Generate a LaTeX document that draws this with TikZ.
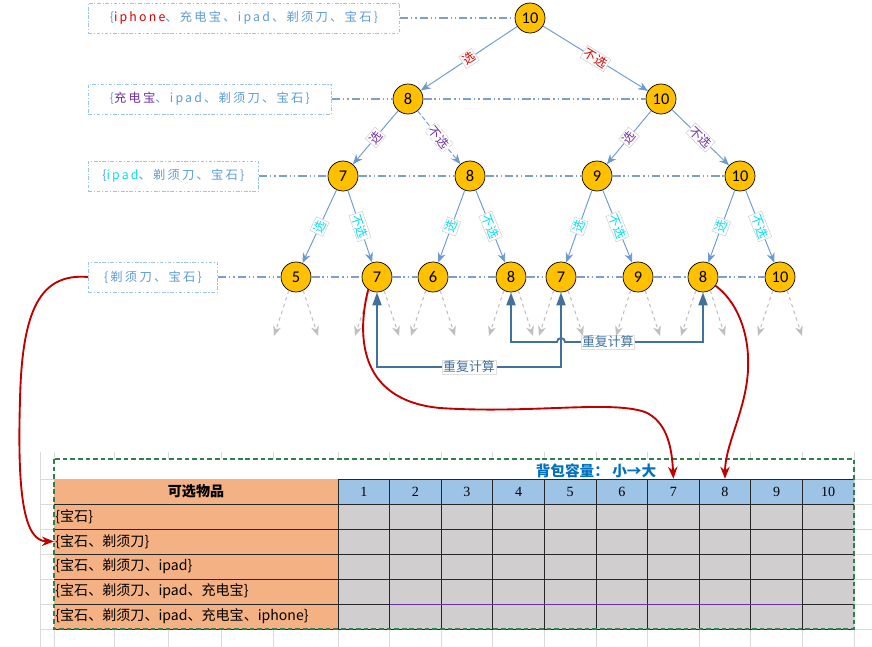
\documentclass[tikz,border=0pt]{standalone}
\usepackage{fontspec}
\setmainfont{Liberation Serif}
\newfontfamily\cjk{Noto Sans CJK SC}
\newfontfamily\boxfont[LetterSpace=18]{Noto Sans CJK SC}
\newfontfamily\numfont{Carlito}
\usetikzlibrary{arrows.meta}

\definecolor{nodeorange}{HTML}{FFC000}
\definecolor{edgeblue}{HTML}{6A9AD0}
\definecolor{lvlblue}{HTML}{7F9FCB}
\definecolor{boxline}{HTML}{9DC3E6}
\definecolor{labblue}{HTML}{5B9BD5}
\definecolor{pickred}{HTML}{D40000}
\definecolor{pickpurple}{HTML}{7030A0}
\definecolor{pickcyan}{HTML}{00E0F0}
\definecolor{repblue}{HTML}{41719C}
\definecolor{curvered}{HTML}{C00000}
\definecolor{sheetgrid}{HTML}{DADADA}
\definecolor{itemorange}{HTML}{F4B183}
\definecolor{headblue}{HTML}{9DC3E6}
\definecolor{cellgray}{HTML}{D0CECE}
\definecolor{framegreen}{HTML}{2F7F4F}
\definecolor{titleblue}{HTML}{0070C0}

\tikzset{
  treenode/.style={circle,draw=black,line width=0.6pt,fill=nodeorange,minimum size=9mm,inner sep=0pt,font=\numfont\fontsize{14}{14}\selectfont},
  boxlab/.style={draw=boxline,line width=0.7pt,dash pattern=on 3pt off 1.5pt on 1pt off 1.5pt,minimum height=9mm,inner sep=0pt,anchor=west,text=labblue,font=\boxfont\fontsize{10.5}{10.5}\selectfont},
  levelline/.style={draw=lvlblue,line width=0.9pt,dash pattern=on 7pt off 2.5pt on 1.2pt off 2.5pt on 1.2pt off 2.5pt},
  pickedge/.style={draw=edgeblue,line width=0.8pt,-{Stealth[length=3mm,width=2.4mm]}},
  pick/.style={sloped,midway,fill=white,draw=black!20,line width=0.4pt,inner sep=1.2pt,font=\cjk\fontsize{10.5}{10.5}\selectfont},
  leafarrow/.style={draw=black!25,dashed,line width=0.9pt,-{Stealth[length=3mm,width=2.4mm]}},
  repeatarrow/.style={draw=repblue,line width=1.6pt,{Triangle[length=3.9mm,width=2.7mm]}-{Triangle[length=3.9mm,width=2.7mm]}},
  repeatlab/.style={fill=white,draw=black!12,line width=0.4pt,inner sep=1pt,text=repblue,font=\cjk\fontsize{11}{11}\selectfont},
  redcurve/.style={draw=curvered,line width=1.6pt,-{Stealth[length=3.6mm,width=2.8mm]}},
  gridline/.style={draw=sheetgrid,line width=0.6pt},
  cellline/.style={draw=black!85,line width=0.7pt},
  headcell/.style={minimum width=15.48mm,minimum height=7.5mm,inner sep=0pt,font=\fontsize{12}{12}\selectfont},
  rowlab/.style={anchor=west,inner sep=1pt,font=\cjk\fontsize{12}{12}\selectfont},
}

\begin{document}
\begin{tikzpicture}[x=0.3mm,y=-0.3mm]
	\useasboundingbox (0,0) rectangle (872,647);

	% item boxes on the left
	\node[boxlab,minimum width=93.3mm] (b1) at (88,18) {\{\textcolor{pickred}{iphone}、充电宝、ipad、剃须刀、宝石\}};
	\node[boxlab,minimum width=72.9mm] (b2) at (88,99) {\{\textcolor{pickpurple}{充电宝}、ipad、剃须刀、宝石\}};
	\node[boxlab,minimum width=51mm] (b3) at (88,176) {\{\textcolor{pickcyan}{ipad}、剃须刀、宝石\}};
	\node[boxlab,minimum width=38.7mm] (b4) at (88,277) {\{剃须刀、宝石\}};

	% decision tree
	\node[treenode] (n0) at (530,18) {10};
	\node[treenode] (n1a) at (408,99) {8};
	\node[treenode] (n1b) at (661,99) {10};
	\node[treenode] (n2a) at (343,176) {7};
	\node[treenode] (n2b) at (470,176) {8};
	\node[treenode] (n2c) at (597,176) {9};
	\node[treenode] (n2d) at (740,176) {10};
	\node[treenode] (l1) at (296,277) {5};
	\node[treenode] (l2) at (377,277) {7};
	\node[treenode] (l3) at (433,277) {6};
	\node[treenode] (l4) at (511,277) {8};
	\node[treenode] (l5) at (561,277) {7};
	\node[treenode] (l6) at (638,277) {9};
	\node[treenode] (l7) at (703,277) {8};
	\node[treenode] (l8) at (780,277) {10};

	\draw[levelline] (b1) -- (n0);
	\draw[levelline] (b2) -- (n1a) -- (n1b);
	\draw[levelline] (b3) -- (n2a) -- (n2b) -- (n2c) -- (n2d);
	\draw[levelline] (b4) -- (l1) -- (l2) -- (l3) -- (l4) -- (l5) -- (l6) -- (l7) -- (l8);

	\draw[pickedge] (n0) -- node[pick,text=pickred]{选} (n1a);
	\draw[pickedge] (n0) -- node[pick,text=pickred]{不选} (n1b);
	\draw[pickedge] (n1a) -- node[pick,text=pickpurple]{选} (n2a);
	\draw[pickedge,dash pattern=on 4pt off 2pt] (n1a) -- node[pick,text=pickpurple]{不选} (n2b);
	\draw[pickedge] (n1b) -- node[pick,text=pickpurple]{选} (n2c);
	\draw[pickedge] (n1b) -- node[pick,text=pickpurple]{不选} (n2d);
	\draw[pickedge] (n2a) -- node[pick,text=pickcyan]{选} (l1);
	\draw[pickedge] (n2a) -- node[pick,text=pickcyan]{不选} (l2);
	\draw[pickedge] (n2b) -- node[pick,text=pickcyan]{选} (l3);
	\draw[pickedge] (n2b) -- node[pick,text=pickcyan]{不选} (l4);
	\draw[pickedge] (n2c) -- node[pick,text=pickcyan]{选} (l5);
	\draw[pickedge] (n2c) -- node[pick,text=pickcyan]{不选} (l6);
	\draw[pickedge] (n2d) -- node[pick,text=pickcyan]{选} (l7);
	\draw[pickedge] (n2d) -- node[pick,text=pickcyan]{不选} (l8);

	% unfinished branches
	\foreach \n in {1,...,8} {
		\path (l\n) ++(-22,59) coordinate (l\n-a) ++(44,0) coordinate (l\n-b);
		\draw[leafarrow] (l\n.-118) -- (l\n-a);
		\draw[leafarrow] (l\n.-62) -- (l\n-b);
	}

	% repeated sub-problems
	\coordinate (r1) at (0,367);
	\coordinate (r2) at (0,342);
	\coordinate (hop) at (557,342);
	\draw[repeatarrow] (l2.south) -- (l2.south |- r1) -- node[repeatlab]{重复计算} (l5.south |- r1) -- (l5.south);
	\draw[repeatarrow] (l4.south) -- (l4.south |- r2) -- (hop) arc[start angle=180,end angle=0,radius=1.2mm]
		-- node[repeatlab,pos=0.31]{重复计算} (l7.south |- r2) -- (l7.south);

	% sheet grid
	\foreach \x in {40,54,114,168,221,273,338,389.6,441.2,492.8,544.4,596,647.6,699.2,750.8,802.4,854}
		\draw[gridline] (\x,452) -- (\x,647);
	\foreach \y in {479,504,...,629}
		\draw[gridline] (40,\y) -- (872,\y);

	% table
	\fill[white] (54,459) rectangle (854,479);
	\fill[itemorange] (54,479) rectangle (338,629);
	\fill[headblue] (338,479) rectangle (854,504);
	\fill[cellgray] (338,504) rectangle (854,629);
	\draw[cellline] (338,479) -- (854,479);
	\foreach \y in {504,529,...,629}
		\draw[cellline] (54,\y) -- (854,\y);
	\foreach \x in {338,389.6,441.2,492.8,544.4,596,647.6,699.2,750.8,802.4}
		\draw[cellline] (\x,479) -- (\x,629);
	\draw[pickpurple,line width=0.7pt] (389.6,604) -- (802.4,604);
	\draw[framegreen,line width=1pt,dash pattern=on 4pt off 2.5pt] (54,459) rectangle (854,629);

	\node[font=\cjk\bfseries\fontsize{12.5}{12.5}\selectfont,text=titleblue] (title) at (596,471) {背包容量：\ 小→大};
	\node[font=\cjk\bfseries\fontsize{12}{12}\selectfont] (items) at (196,491.5) {可选物品};
	\foreach \i in {1,...,10}
		\node[headcell] (h\i) at (312.2+51.6*\i,491.5) {\i};
	\node[rowlab] (row1) at (54,516.5) {\{宝石\}};
	\node[rowlab] (row2) at (54,541.5) {\{宝石、剃须刀\}};
	\node[rowlab] (row3) at (54,566.5) {\{宝石、剃须刀、ipad\}};
	\node[rowlab] (row4) at (54,591.5) {\{宝石、剃须刀、ipad、充电宝\}};
	\node[rowlab] (row5) at (54,616.5) {\{宝石、剃须刀、ipad、充电宝、iphone\}};

	% where the sub-problems land in the table
	\draw[redcurve] (b4.west) .. controls (40,273) and (22,310) .. (20,400)
		.. controls (17,500) and (25,541) .. (row2.west);
	\draw[redcurve] (l2.-125) .. controls (358,330) and (355,400) .. (440,408)
		.. controls (530,414) and (610,400) .. (645,412)
		.. controls (668,422) and (672,450) .. (h7.north);
	\draw[redcurve] (l7.-35) .. controls (735,300) and (750,330) .. (748,370)
		.. controls (746,410) and (725,445) .. (h8.north);

\end{tikzpicture}
\end{document}
